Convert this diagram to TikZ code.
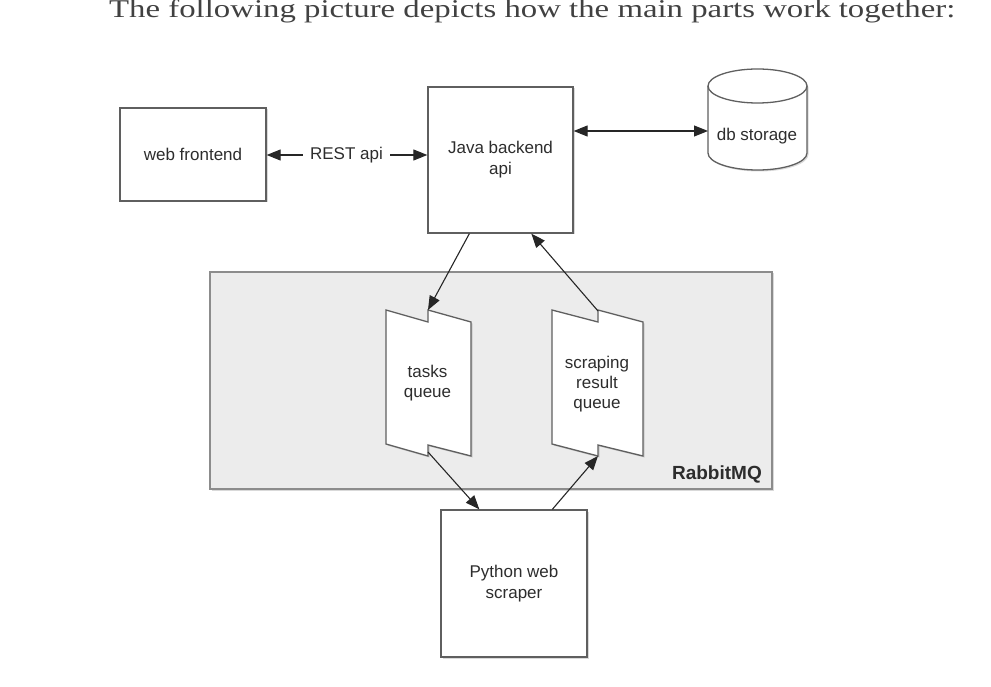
\documentclass[tikz,border=0pt]{standalone}
\usepackage{fontspec}
\setmainfont{Liberation Sans}
\newfontfamily\headserif{Liberation Serif}
\usetikzlibrary{arrows.meta,shadows,calc}
\definecolor{txt}{RGB}{45,45,45}
\definecolor{hdr}{RGB}{65,65,65}
\definecolor{edge}{RGB}{95,95,95}
\definecolor{mqfill}{RGB}{236,236,236}
\definecolor{mqedge}{RGB}{140,140,140}
\tikzset{
  boxstyle/.style={draw=edge, line width=1.3pt, fill=white, inner sep=0pt,
    align=center, text=txt, font=\fontsize{17}{21}\selectfont,
    drop shadow={shadow xshift=1.5pt, shadow yshift=-1.5pt, opacity=0.3}},
  shapestyle/.style={draw=edge, line width=1.3pt, fill=white,
    drop shadow={shadow xshift=1.5pt, shadow yshift=-1.5pt, opacity=0.3}},
  labelstyle/.style={text=txt, align=center, font=\fontsize{17}{21}\selectfont, inner sep=0pt},
  conn/.style={draw=black!85, line width=1.1pt},
  tip/.style={-{Triangle[length=14pt,width=11pt]}},
  dtip/.style={{Triangle[length=14pt,width=11pt]}-{Triangle[length=14pt,width=11pt]}},
}
\begin{document}
\begin{tikzpicture}[x=1pt,y=1pt]
\useasboundingbox (0,0) rectangle (991,-687);
% header
\node[anchor=base west, inner sep=0pt, text=hdr] (header) at (109,-17.3)
  {\resizebox{846pt}{18pt}{\headserif The following picture depicts how the main parts work together:}};
% RabbitMQ container
\node[draw=mqedge, line width=1.3pt, fill=mqfill, minimum width=562pt, minimum height=217pt,
  drop shadow={shadow xshift=1.5pt, shadow yshift=-1.5pt, opacity=0.3}] (mq) at (491,-380.5) {};
\node[anchor=base east, text=txt, inner sep=0pt, font=\fontsize{19}{22}\selectfont\bfseries] (mqlabel) at (762,-479) {RabbitMQ};
% boxes
\node[boxstyle, minimum width=146pt, minimum height=93pt] (web) at (193,-154.5) {web frontend};
\node[boxstyle, minimum width=145pt, minimum height=146pt] (java) at (500.5,-160) {Java backend\\api};
\node[boxstyle, minimum width=146pt, minimum height=147pt] (python) at (514,-583.5) {Python web\\scraper};
% db cylinder
\path[shapestyle] (708,-86) -- (708,-153) arc (180:360:49.5pt and 17pt) -- (807,-86) arc (0:180:49.5pt and 17pt) -- cycle;
\draw[draw=edge, line width=1.3pt] (708,-86) arc (180:360:49.5pt and 17pt);
\node[labelstyle] (db) at (757,-136) {db storage};
\coordinate (dbin) at (708,-131);
% queues
\path[shapestyle] (386,-310) -- (428,-322) -- (428,-310) -- (471,-322) -- (471,-456) -- (428,-445) -- (428,-456) -- (386,-444) -- cycle;
\path[shapestyle] (552,-310) -- (598,-322) -- (598,-310) -- (643,-322) -- (643,-456) -- (598,-445) -- (598,-456) -- (552,-444) -- cycle;
\node[labelstyle, font=\fontsize{17}{20}\selectfont] (tasks) at (427.5,-383.3) {tasks\\queue};
\node[labelstyle, font=\fontsize{17}{20}\selectfont] (scraping) at (597,-384) {scraping\\result\\queue};
\coordinate (tqTop) at (428,-310);
\coordinate (tqBot) at (428,-452);
\coordinate (sqTop) at (598,-311);
\coordinate (sqBot) at (598,-456);
% REST api
\node[labelstyle, inner xsep=7pt] (rest) at (346.5,-155) {REST api};
\draw[conn, tip] (rest.west) -- (web.east |- rest.west);
\draw[conn, tip] (rest.east) -- (java.west |- rest.east);
% db arrow
\draw[conn, dtip] (java.east |- dbin) -- (dbin);
% java <-> queues
\draw[conn, tip] ([xshift=42pt]java.south west) -- (tqTop);
\draw[conn, tip] (sqTop) -- ([xshift=104pt]java.south west);
% queues <-> python
\draw[conn, tip] (tqBot) -- ([xshift=39pt]python.north west);
\draw[conn, tip] ([xshift=112pt]python.north west) -- (sqBot);
\end{tikzpicture}
\end{document}
